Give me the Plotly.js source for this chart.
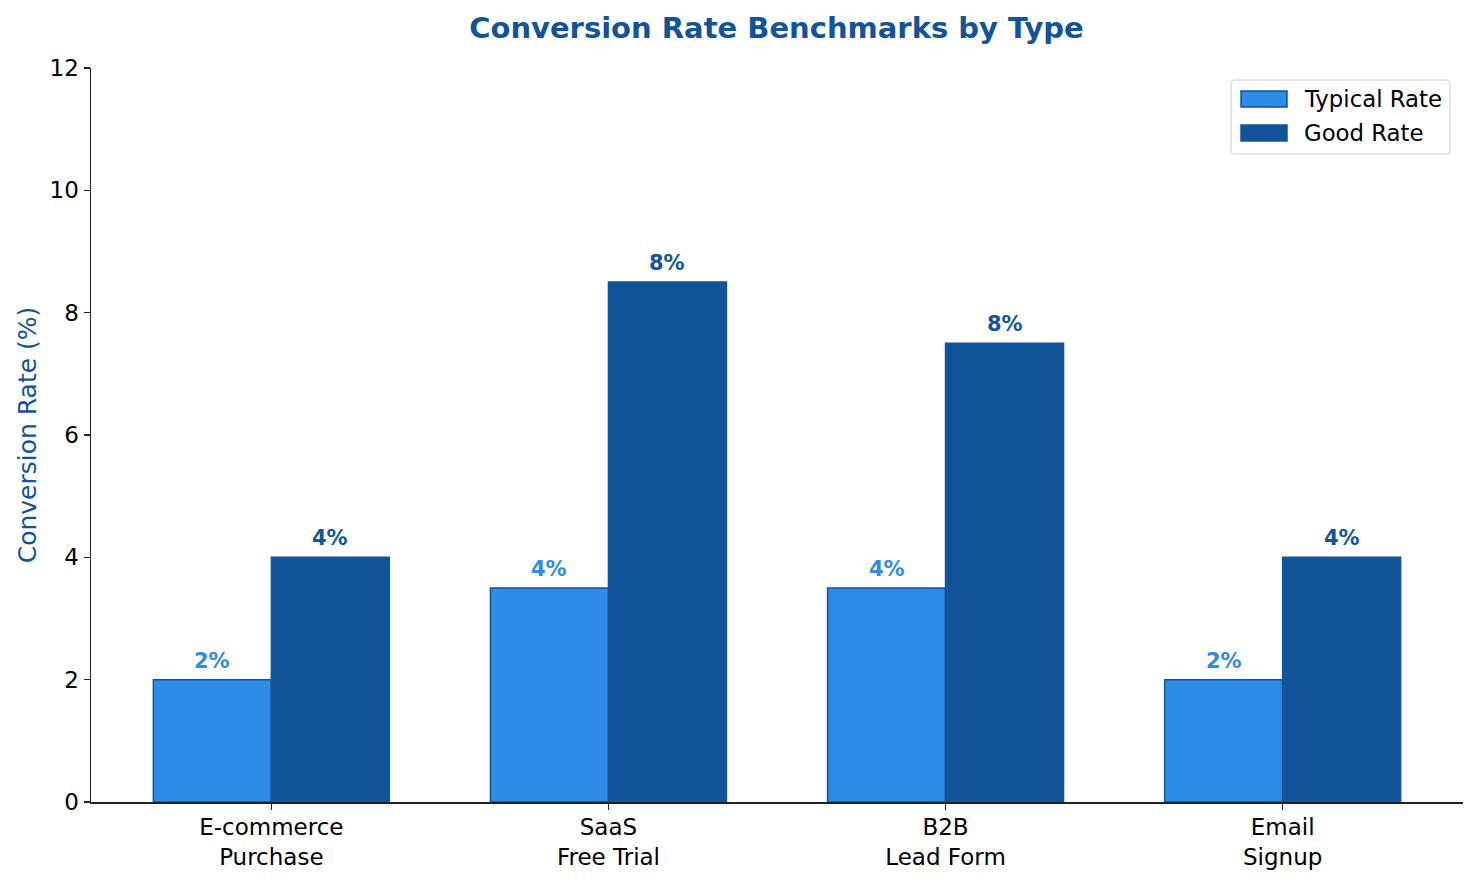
<!DOCTYPE html>
<html>
<head>
<meta charset="utf-8">
<script src="https://cdn.plot.ly/plotly-3.0.1.min.js"></script>
<style>
  html, body { margin: 0; padding: 0; background: #ffffff; }
  #chart { width: 1477px; height: 881px; }
</style>
</head>
<body>
<div id="chart"></div>
<script>
const categories = ["E-commerce<br>Purchase", "SaaS<br>Free Trial", "B2B<br>Lead Form", "Email<br>Signup"];
const typicalRate = [2, 3.5, 3.5, 2];
const goodRate = [4, 8.5, 7.5, 4];
const typicalLabels = ["2%", "4%", "4%", "2%"];
const goodLabels = ["4%", "8%", "8%", "4%"];
const seriesNames = ["Typical Rate", "Good Rate"];

const lightBlue = "#2e8be6";
const darkBlue = "#11549a";
const barWidth = 0.35;
const fontFamily = "DejaVu Sans";

// plot area in pixels, used to place the hand-drawn legend
const plotLeft = 91;
const plotRight = 1463;
const plotTop = 68;
const plotBottom = 802;

const positions = categories.map((_, i) => i);

const traces = [
  {
    type: "bar",
    name: seriesNames[0],
    x: positions.map((p) => p - barWidth / 2),
    y: typicalRate,
    width: barWidth,
    marker: { color: lightBlue, line: { color: darkBlue, width: 1.5 } },
    hoverinfo: "y",
  },
  {
    type: "bar",
    name: seriesNames[1],
    x: positions.map((p) => p + barWidth / 2),
    y: goodRate,
    width: barWidth,
    marker: { color: darkBlue, line: { color: darkBlue, width: 1.5 } },
    hoverinfo: "y",
  },
];

function makeLabels(values, labels, offset, color) {
  return values.map((v, i) => ({
    x: positions[i] + offset,
    y: v,
    xref: "x",
    yref: "y",
    text: "<b>" + labels[i] + "</b>",
    showarrow: false,
    yanchor: "bottom",
    yshift: 5,
    font: { family: fontFamily, size: 21, color: color },
  }));
}

function px(xPixel) {
  return (xPixel - plotLeft) / (plotRight - plotLeft);
}

function py(yPixel) {
  return (plotBottom - yPixel) / (plotBottom - plotTop);
}

function roundedBox(x0, y0, x1, y1, r) {
  const X = (v) => px(v).toFixed(5);
  const Y = (v) => py(v).toFixed(5);
  return (
    `M ${X(x0 + r)} ${Y(y0)} L ${X(x1 - r)} ${Y(y0)} Q ${X(x1)} ${Y(y0)} ${X(x1)} ${Y(y0 + r)} ` +
    `L ${X(x1)} ${Y(y1 - r)} Q ${X(x1)} ${Y(y1)} ${X(x1 - r)} ${Y(y1)} ` +
    `L ${X(x0 + r)} ${Y(y1)} Q ${X(x0)} ${Y(y1)} ${X(x0)} ${Y(y1 - r)} ` +
    `L ${X(x0)} ${Y(y0 + r)} Q ${X(x0)} ${Y(y0)} ${X(x0 + r)} ${Y(y0)} Z`
  );
}

// legend drawn by hand so the patches look like wide rectangles
const legendShapes = [
  {
    type: "path",
    xref: "paper",
    yref: "paper",
    path: roundedBox(1231, 80, 1450, 154, 4),
    fillcolor: "rgba(255,255,255,0.8)",
    line: { color: "#cccccc", width: 1 },
  },
  {
    type: "rect",
    xref: "paper",
    yref: "paper",
    x0: px(1241), x1: px(1287), y0: py(107), y1: py(91),
    fillcolor: lightBlue,
    line: { color: darkBlue, width: 1.5 },
  },
  {
    type: "rect",
    xref: "paper",
    yref: "paper",
    x0: px(1241), x1: px(1287), y0: py(141), y1: py(125),
    fillcolor: darkBlue,
    line: { color: darkBlue, width: 1.5 },
  },
];

const legendTexts = seriesNames.map((name, i) => ({
  xref: "paper",
  yref: "paper",
  x: px(1302),
  y: py(i === 0 ? 99 : 133),
  xanchor: "left",
  yanchor: "middle",
  text: name,
  showarrow: false,
  font: { family: fontFamily, size: 22.8, color: "#000000" },
}));

const annotations = [
  ...makeLabels(typicalRate, typicalLabels, -barWidth / 2, lightBlue),
  ...makeLabels(goodRate, goodLabels, barWidth / 2, darkBlue),
  ...legendTexts,
];

const layout = {
  width: 1477,
  height: 881,
  paper_bgcolor: "#ffffff",
  plot_bgcolor: "#ffffff",
  margin: { l: plotLeft, r: 1477 - plotRight, t: plotTop, b: 881 - plotBottom },
  font: { family: fontFamily, size: 23, color: "#000000" },
  title: {
    text: "<b>Conversion Rate Benchmarks by Type</b>",
    font: { family: fontFamily, size: 29, color: darkBlue },
    x: 0.5257,
    xanchor: "center",
    yref: "container",
    y: 1 - 28 / 881,
    yanchor: "middle",
  },
  barmode: "overlay",
  bargap: 0,
  showlegend: false,
  xaxis: {
    range: [-0.535, 3.535],
    tickmode: "array",
    tickvals: positions,
    ticktext: categories,
    ticks: "outside",
    ticklen: 6,
    tickwidth: 1.2,
    tickcolor: "#222222",
    ticklabelstandoff: -2,
    showline: true,
    linecolor: "#222222",
    linewidth: 1.5,
    showgrid: false,
    zeroline: false,
    tickfont: { family: fontFamily, size: 23, color: "#000000" },
  },
  yaxis: {
    range: [0, 12],
    tickmode: "array",
    tickvals: [0, 2, 4, 6, 8, 10, 12],
    ticks: "outside",
    ticklen: 6,
    tickwidth: 1.2,
    tickcolor: "#222222",
    showline: true,
    linecolor: "#222222",
    linewidth: 1.5,
    showgrid: false,
    zeroline: false,
    tickfont: { family: fontFamily, size: 23, color: "#000000" },
    title: {
      text: "Conversion Rate (%)",
      font: { family: fontFamily, size: 25, color: darkBlue },
      standoff: 6,
    },
  },
  shapes: legendShapes,
  annotations: annotations,
};

Plotly.newPlot("chart", traces, layout, { displayModeBar: false, staticPlot: true });
</script>
</body>
</html>
